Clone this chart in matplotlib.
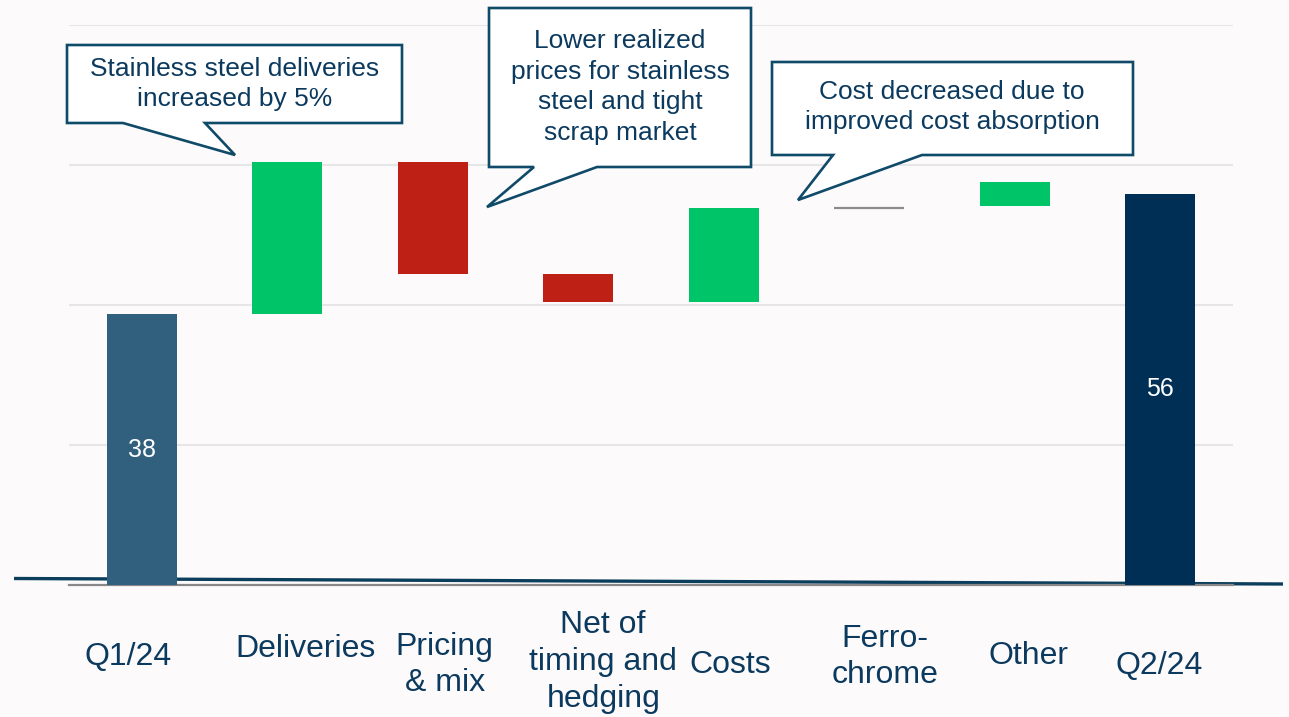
import matplotlib
matplotlib.use('Agg')
import matplotlib.pyplot as plt
from matplotlib.patches import Polygon

# Waterfall data (EUR million)
categories = ['Q1/24', 'Deliveries', 'Pricing\n& mix', 'Net of\ntiming and\nhedging',
              'Costs', 'Ferro-\nchrome', 'Other', 'Q2/24']
bar_start = [0.0, 38.7, 60.4, 44.4, 40.4, 53.9, 54.2, 0.0]
bar_end = [38.7, 60.4, 44.4, 40.4, 53.9, 53.9, 57.6, 55.9]
bar_kind = ['total', 'up', 'down', 'down', 'up', 'flat', 'up', 'end']
value_labels = ['38', '', '', '', '', '', '', '56']
callouts = [
    'Stainless steel deliveries\nincreased by 5%',
    'Lower realized\nprices for stainless\nsteel and tight\nscrap market',
    'Cost decreased due to\nimproved cost absorption',
]

W, H = 1289, 717
BG = '#fcfafb'
NAVY_TXT = '#0c3a5e'
BORDER = '#0f4a68'
colors = {'total': '#31607f', 'up': '#00c468', 'down': '#be2016',
          'flat': '#8c8c8c', 'end': '#002f56'}

plt.rcParams['font.family'] = ['Liberation Sans', 'DejaVu Sans']

fig = plt.figure(figsize=(W / 100, H / 100), dpi=100, facecolor=BG)
ax = fig.add_axes([69 / W, 1 - 585 / H, (1233 - 69) / W, 560 / H])
ax.set_facecolor('none')


def px(x, y):
    # figure pixel (top-left origin) -> figure fraction
    return (x / W, 1 - y / H)


# slanted dark base line behind the bars
(x0, y0), (x1, y1) = px(14, 578.5), px(1283, 584)
ax.plot([x0, x1], [y0, y1], transform=fig.transFigure, clip_on=False,
        color='#0b3d5c', lw=2.4, zorder=1, solid_capstyle='butt')

width = 0.48
for i, (s, e, k) in enumerate(zip(bar_start, bar_end, bar_kind)):
    if k == 'flat':
        ax.hlines(s, i - width / 2, i + width / 2, color=colors[k], lw=1.6, zorder=3)
    else:
        ax.bar(i, e - s, bottom=s, width=width, color=colors[k], zorder=3)
    if value_labels[i]:
        ax.text(i, (s + e) / 2, value_labels[i], color='white', fontsize=18,
                ha='center', va='center', zorder=4)

ax.set_xlim(-0.5, len(categories) - 0.5)
ax.set_ylim(0, 80)
ax.set_yticks([20, 40, 60, 80])
ax.grid(axis='y', color='#e6e6e6', lw=1.5, zorder=0)
ax.tick_params(left=False, bottom=False, labelleft=False, labelbottom=False)
for side in ['top', 'left', 'right']:
    ax.spines[side].set_visible(False)
ax.spines['bottom'].set_color('#888888')
ax.spines['bottom'].set_linewidth(1.6)
ax.spines['bottom'].set_zorder(2)

# category labels (pixel offsets from bar centre, vertical centre in pixels)
label_dx = [-14, 18, 12, 25, 6, 16, 14, -1]
label_y = [657, 649, 665, 662, 665, 657, 656, 666]
for i, lab in enumerate(categories):
    xf = ax.transData.transform((i, 0))[0] + label_dx[i]
    fig.text(xf / W, 1 - label_y[i] / H, lab, ha='center', va='center',
             fontsize=23, color=NAVY_TXT, linespacing=1.3)

# callout shapes in pixel space
shapes = [
    [(67, 45), (402, 45), (402, 123), (205, 123), (235, 155), (123, 123), (67, 123)],
    [(489, 8), (751, 8), (751, 167), (597, 167), (487, 207), (534, 167), (489, 167)],
    [(772, 62), (1133, 62), (1133, 155), (922, 155), (798, 200), (833, 155), (772, 155)],
]
text_centres = [(234.5, 84), (620, 87), (952, 107)]
for pts, txt, (cx, cy) in zip(shapes, callouts, text_centres):
    poly = Polygon([px(x, y) for x, y in pts], closed=True, transform=fig.transFigure,
                   facecolor='white', edgecolor=BORDER, lw=1.9, clip_on=False,
                   zorder=6, joinstyle='miter')
    ax.add_patch(poly)
    fig.text(cx / W, 1 - cy / H, txt, ha='center', va='center', fontsize=19,
             color=NAVY_TXT, linespacing=1.35, zorder=7)

fig.savefig('out.png', dpi=100, facecolor=BG)
